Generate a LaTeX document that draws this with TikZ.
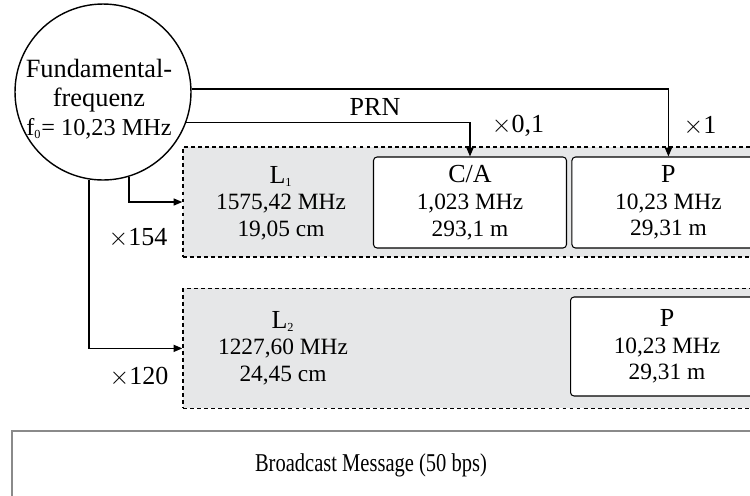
\documentclass[tikz,border=0pt]{standalone}
\usepackage{fontspec}
\setmainfont{Liberation Serif}
\newfontfamily\condfont[FakeStretch=0.8]{Liberation Serif}
\usetikzlibrary{positioning, arrows.meta, calc}
\definecolor{bandgray}{HTML}{E6E7E8}
\definecolor{msggray}{HTML}{8A8A8A}
\newcommand{\headtxt}{\fontsize{14.8}{15.2}\selectfont}
\newcommand{\valtxt}{\fontsize{13.3}{15.2}\selectfont}
\newcommand{\msgtxt}{\condfont\fontsize{14.6}{16}\selectfont}
\newcommand{\lowsub}[1]{\textsubscript{\fontsize{7}{7}\selectfont #1}}
\tikzset{
  flow/.style={-{Triangle[length=5pt, width=4pt]}, line width=0.8pt},
  source/.style={circle, draw, line width=0.8pt, minimum size=3.52cm, inner sep=0},
  band/.style={draw, dash pattern=on 2.2pt off 1.8pt, line width=0.8pt, fill=bandgray, minimum width=11.74cm, inner sep=0},
  code/.style={draw, rounded corners=2pt, fill=white, line width=0.6pt, minimum width=3.86cm, inner sep=0, align=center, font=\valtxt},
  freq/.style={align=center, font=\valtxt, inner sep=0},
  factor/.style={font=\headtxt, inner sep=0},
  message/.style={draw=msggray, line width=1.1pt, minimum width=15.16cm, minimum height=1.78cm, inner sep=0},
  every node/.style={inner sep=0}
}
\begin{document}
\begin{tikzpicture}[x=0.02cm, y=-0.02cm]
    \useasboundingbox (0,0) rectangle (750,495);
    \node[source] (fund) at (103,92) {};
    \node[align=center, font=\fontsize{15}{16.5}\selectfont] (fundtxt) at (99,99) {Fundamental-\\frequenz\\{\fontsize{13.8}{16.5}\selectfont f\lowsub{0}= 10,23 MHz}};
    % L1 band with its codes
    \node[band, minimum height=2.2cm] (l1) at (476.5,202) {};
    \node[freq] (l1txt) at (281,203) {{\headtxt L\lowsub{1}}\\1575,42 MHz\\19,05 cm};
    \node[code, minimum height=1.82cm] (ca) at (470,202.5) {{\headtxt C/A}\\1,023 MHz\\293,1 m};
    \node[code, minimum height=1.82cm, right=2.5pt of ca] (p1) {{\headtxt P}\\10,23 MHz\\29,31 m};
    % L2 band
    \node[band, minimum height=2.4cm, below=0.6cm of l1] (l2) {};
    \node[freq] (l2txt) at (283,348) {{\headtxt L\lowsub{2}}\\1227,60 MHz\\24,45 cm};
    \node[code, minimum height=1.98cm] (p2) at (667,346.5) {{\headtxt P}\\10,23 MHz\\29,31 m};
    % broadcast message
    \node[message] (msg) at (391,475.5) {};
    \node[font=\msgtxt] (msglabel) at (371,465) {Broadcast Message (50 bps)};
    % links from the fundamental frequency
    \draw[flow] (fund.2) -| (p1.north);
    \draw[flow] (fund.-20) -| (ca.north);
    \draw[flow] (fund.-73) |- (l1.west);
    \draw[flow] (fund.-99) |- (l2.west);
    \node[factor] (prn) at (375,107) {PRN};
    \node[factor] (fca) at (518,126) {$\times$0,1};
    \node[factor] (fp) at (700,126) {$\times$1};
    \node[factor] (f154) at (138,238) {$\times$154};
    \node[factor] (f120) at (139,377) {$\times$120};
\end{tikzpicture}
\end{document}
